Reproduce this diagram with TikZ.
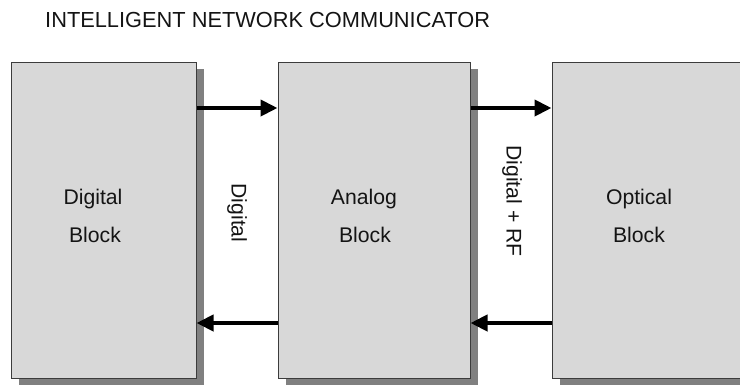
\documentclass[tikz,border=0pt]{standalone}
\usepackage{fontspec}
\setmainfont{Liberation Sans}
\usetikzlibrary{arrows.meta,shadows}
\definecolor{boxfill}{HTML}{D8D8D8}
\definecolor{boxline}{HTML}{3C3C3C}
\definecolor{shadowc}{HTML}{808080}
\definecolor{txt}{HTML}{141414}
\tikzset{
  blk/.style={draw=boxline, line width=1pt, fill=boxfill, inner sep=0pt,
    drop shadow={shadow xshift=8pt, shadow yshift=-7pt, fill=shadowc, opacity=1}},
  lbl/.style={text=txt, font=\fontsize{21.2}{25}\selectfont, inner sep=0pt},
  ttl/.style={text=txt, font=\fontsize{21.8}{26}\selectfont, inner sep=0pt},
  arr/.style={line width=4pt, -{Triangle[length=17pt,width=16pt]}, black}
}
\begin{document}
\begin{tikzpicture}[x=1pt,y=-1pt]
\useasboundingbox (0,0) rectangle (740,386);
\node[ttl, anchor=base west] (title) at (45,27) {INTELLIGENT NETWORK COMMUNICATOR};
\node[blk, minimum width=185pt, minimum height=316pt] (dig) at (103.5,220) {};
\node[blk, minimum width=192pt, minimum height=316pt] (ana) at (374,220) {};
\node[blk, minimum width=220pt, minimum height=316pt] (opt) at (662,220) {};
\node[lbl, anchor=base] (d1) at (93,204) {Digital};
\node[lbl, anchor=base] (d2) at (95,242) {Block};
\node[lbl, anchor=base] (a1) at (364,204) {Analog};
\node[lbl, anchor=base] (a2) at (365,242) {Block};
\node[lbl, anchor=base] (o1) at (639,204) {Optical};
\node[lbl, anchor=base] (o2) at (639,242) {Block};
\node[lbl, rotate=-90] (l1) at (237,213) {Digital};
\node[lbl, rotate=-90] (l2) at (512,201) {Digital + RF};
\draw[arr] (dig.east |- 0,108) -- (ana.west |- 0,108);
\draw[arr] (ana.east |- 0,108) -- (opt.west |- 0,108);
\draw[arr] (ana.west |- 0,323) -- (dig.east |- 0,323);
\draw[arr] (opt.west |- 0,323) -- (ana.east |- 0,323);
\end{tikzpicture}
\end{document}
